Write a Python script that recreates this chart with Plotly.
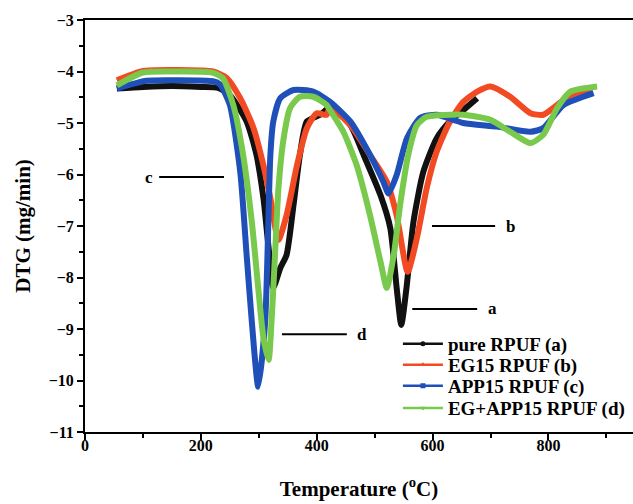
import plotly.graph_objects as go

# Series: Temperature (°C) and DTG (mg/min)
t_a = [55, 100, 150, 200, 230, 250, 279, 296, 308, 317, 325, 337, 348, 360, 371, 383, 406, 423, 458, 481, 510, 527, 538, 546, 555, 567, 584, 607, 630, 653, 677]
y_a = [-4.33, -4.30, -4.28, -4.30, -4.32, -4.46, -4.97, -5.62, -6.46, -7.43, -8.20, -7.82, -7.56, -6.59, -5.62, -4.97, -4.84, -4.70, -5.04, -5.62, -6.40, -7.04, -8.20, -8.92, -8.20, -6.92, -5.95, -5.30, -4.97, -4.75, -4.52]

t_b = [55, 100, 150, 200, 221, 245, 268, 291, 308, 320, 334, 348, 366, 383, 400, 417, 423, 458, 492, 521, 538, 557, 573, 590, 607, 630, 653, 677, 700, 734, 769, 791, 815, 838, 875]
y_b = [-4.17, -3.99, -3.97, -3.98, -4.00, -4.13, -4.52, -5.10, -5.82, -6.46, -7.27, -6.79, -5.82, -5.10, -4.81, -4.84, -4.70, -5.04, -5.62, -6.14, -6.79, -7.89, -7.23, -6.26, -5.56, -4.97, -4.59, -4.39, -4.29, -4.49, -4.81, -4.84, -4.65, -4.46, -4.33]

t_c = [55, 106, 160, 221, 233, 250, 268, 279, 288, 299, 311, 320, 325, 337, 360, 394, 423, 458, 492, 515, 524, 538, 556, 579, 607, 653, 711, 769, 791, 826, 878]
y_c = [-4.33, -4.18, -4.17, -4.19, -4.25, -4.65, -5.95, -7.56, -8.86, -10.12, -8.86, -5.62, -4.97, -4.52, -4.36, -4.39, -4.59, -4.97, -5.62, -6.14, -6.37, -6.01, -5.29, -4.90, -4.84, -5.00, -5.07, -5.17, -5.10, -4.65, -4.42]

t_d = [55, 100, 160, 220, 238, 256, 273, 288, 299, 308, 317, 322, 328, 334, 343, 354, 371, 394, 417, 423, 446, 469, 492, 510, 521, 533, 544, 558, 573, 590, 653, 700, 734, 769, 791, 815, 838, 884]
y_d = [-4.27, -4.02, -4.00, -4.02, -4.13, -4.65, -5.62, -6.92, -8.20, -9.17, -9.60, -8.86, -7.56, -6.26, -5.29, -4.71, -4.49, -4.49, -4.65, -4.75, -5.17, -5.82, -6.79, -7.69, -8.20, -7.56, -6.59, -5.62, -5.04, -4.88, -4.84, -4.94, -5.17, -5.39, -5.23, -4.71, -4.39, -4.29]

names = ["pure RPUF (a)", "EG15 RPUF (b)", "APP15 RPUF (c)", "EG+APP15 RPUF (d)"]
colors = ["#111111", "#f24a22", "#1f4fb8", "#78c94c"]
symbols = ["circle", "triangle-up", "square", "triangle-down"]

labels = ["c", "d", "b", "a"]
label_x = [110, 478, 734, 703]
label_y = [-6.05, -9.10, -7.0, -8.61]
line_x0 = [128, 340, 599, 565]
line_x1 = [240, 452, 708, 677]

FONT = "Liberation Serif, Times New Roman, serif"

fig = go.Figure()
series = [(t_a, y_a), (t_b, y_b), (t_c, y_c), (t_d, y_d)]
for (tx, ty), n, c in zip(series, names, colors):
    fig.add_trace(go.Scatter(x=tx, y=ty, mode="lines", line=dict(color=c, width=6, shape="spline", smoothing=0.6),
                             showlegend=False, hoverinfo="skip"))

legend_ids = ["legend", "legend2", "legend3", "legend4"]
legend_y = [0.214, 0.163, 0.112, 0.058]
for n, c, s, lid in zip(names, colors, symbols, legend_ids):
    fig.add_trace(go.Scatter(x=[None], y=[None], mode="lines+markers", name=n, legend=lid,
                             line=dict(color=c, width=2.5), marker=dict(color=c, symbol=s, size=5)))

for lab, lx, ly, x0, x1 in zip(labels, label_x, label_y, line_x0, line_x1):
    fig.add_shape(type="line", x0=x0, x1=x1, y0=ly, y1=ly, xref="x", yref="y",
                  line=dict(color="black", width=2))
    fig.add_annotation(x=lx, y=ly, text="<b>%s</b>" % lab, showarrow=False, xref="x", yref="y",
                       font=dict(family=FONT, size=17, color="black"))

leg_common = dict(xanchor="left", yanchor="middle", bgcolor="rgba(0,0,0,0)",
                  font=dict(family=FONT, size=19, color="black", weight="bold"),
                  itemwidth=40, borderwidth=0)
layout_legends = {}
for lid, ly in zip(legend_ids, legend_y):
    layout_legends[lid] = dict(x=0.571, y=ly, **leg_common)

fig.update_layout(
    width=633, height=504,
    margin=dict(l=85, r=0, t=20, b=72),
    paper_bgcolor="white", plot_bgcolor="white",
    font=dict(family=FONT, color="black"),
    showlegend=True,
    **layout_legends,
)
fig.update_xaxes(
    range=[0, 946], tickmode="linear", tick0=0, dtick=200, automargin=False,
    ticks="outside", ticklen=6, tickwidth=2, tickcolor="black",
    minor=dict(dtick=100, ticks="outside", ticklen=4, tickwidth=2, tickcolor="black"),
    showline=True, linewidth=2, linecolor="black", mirror=True,
    showgrid=False, zeroline=False, ticklabelstandoff=-8,
    tickfont=dict(family=FONT, size=16, color="black", weight="bold"),
    title=dict(text="<b>Temperature (<sup>o</sup>C)</b>", font=dict(family=FONT, size=21, color="black"), standoff=28),
)
fig.update_yaxes(
    range=[-11, -3], tickmode="linear", tick0=-11, dtick=1, automargin=False,
    ticks="outside", ticklen=6, tickwidth=2, tickcolor="black",
    minor=dict(dtick=0.5, ticks="outside", ticklen=4, tickwidth=2, tickcolor="black"),
    showline=True, linewidth=2, linecolor="black",
    showgrid=False, zeroline=False,
    tickfont=dict(family=FONT, size=16, color="black", weight="bold"),
    title=dict(text="<b>DTG (mg/min)</b>", font=dict(family=FONT, size=21, color="black"), standoff=12),
)

fig.write_html("out.html", config={"displayModeBar": False},
               post_script="document.body.style.margin='0';")
